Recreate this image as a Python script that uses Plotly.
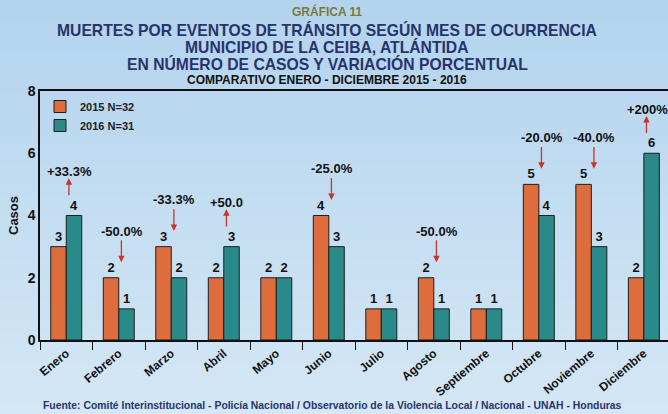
import plotly.graph_objects as go

months = ["Enero", "Febrero", "Marzo", "Abril", "Mayo", "Junio", "Julio",
          "Agosto", "Septiembre", "Octubre", "Noviembre", "Diciembre"]
casos_2015 = [3, 2, 3, 2, 2, 4, 1, 2, 1, 5, 5, 2]
casos_2016 = [4, 1, 2, 3, 2, 3, 1, 1, 1, 4, 3, 6]
variacion = ["+33.3%", "-50.0%", "-33.3%", "+50.0", "", "-25.0%", "",
             "-50.0%", "", "-20.0%", "-40.0%", "+200%"]
y_ticks = [0, 2, 4, 6, 8]

W, H = 668, 414
L, R, T, B = 40, 0, 91, 74
PH = H - T - B
PW = W - L - R


def py(p):
    return (H - B - p) / PH


def px(p):
    return (p - L) / PW


FONT = "Liberation Sans"
ORANGE = "#de6d3d"
TEAL = "#2a8989"
NAVY = "#28346b"

fig = go.Figure()
fig.add_trace(go.Bar(
    x=list(range(len(months))), y=casos_2015, name="2015 N=32",
    marker=dict(color=ORANGE, line=dict(color="#1e1e1e", width=1)),
    text=casos_2015, textposition="outside", constraintext="none",
    textfont=dict(family=FONT, size=13, color="#111", weight="bold"),
    cliponaxis=False,
))
fig.add_trace(go.Bar(
    x=list(range(len(months))), y=casos_2016, name="2016 N=31",
    marker=dict(color=TEAL, line=dict(color="#1e1e1e", width=1)),
    text=casos_2016, textposition="outside", constraintext="none",
    textfont=dict(family=FONT, size=13, color="#111", weight="bold"),
    cliponaxis=False,
))

annotations = []
for i, lab in enumerate(variacion):
    if not lab:
        continue
    a, b = casos_2015[i], casos_2016[i]
    m = max(a, b)
    xi = i + 0.05
    if b > a:
        tail, head, ty = m + 0.6, m + 1.2, m + 1.42
    else:
        tail, head, ty = m + 1.25, m + 0.5, m + 1.5
    annotations.append(dict(
        x=xi, y=head, ax=xi, ay=tail, xref="x", yref="y", axref="x", ayref="y",
        text="", showarrow=True, arrowhead=2, arrowsize=1, arrowwidth=1.3,
        arrowcolor="#c9342c", standoff=0, startstandoff=0))
    annotations.append(dict(
        x=i + 0.06, y=ty, xref="x", yref="y", text=lab, showarrow=False,
        yanchor="middle", font=dict(family=FONT, size=13, color="#111", weight="bold")))

titles = [
    ("GRÁFICA 11", 11, 12, "#7a7a3c"),
    ("MUERTES POR EVENTOS DE TRÁNSITO SEGÚN MES DE OCURRENCIA", 30, 15.7, NAVY),
    ("MUNICIPIO DE LA CEIBA, ATLÁNTIDA", 47, 15.7, NAVY),
    ("EN NÚMERO DE CASOS Y VARIACIÓN PORCENTUAL", 64, 15.7, NAVY),
    ("COMPARATIVO ENERO - DICIEMBRE 2015 - 2016", 80, 12, "#111"),
]
for txt, yy, sz, col in titles:
    annotations.append(dict(
        x=px(327), y=py(yy), xref="paper", yref="paper", text=txt, showarrow=False,
        xanchor="center", yanchor="middle",
        font=dict(family=FONT, size=sz, color=col, weight="bold")))

annotations.append(dict(
    x=px(332), y=py(405), xref="paper", yref="paper",
    text="Fuente: Comité Interinstitucional - Policía Nacional / Observatorio de la Violencia Local / Nacional - UNAH - Honduras",
    showarrow=False, xanchor="center", yanchor="middle",
    font=dict(family=FONT, size=10.4, color=NAVY, weight="bold")))

# background gradient bands
shapes = []
n = 40
top_c = (0xb3, 0xd3, 0xee)
bot_c = (0xd4, 0xe7, 0xf5)
for k in range(n):
    t = k / (n - 1)
    c = tuple(round(top_c[j] + (bot_c[j] - top_c[j]) * t) for j in range(3))
    y0 = H * k / n
    y1 = H * (k + 1) / n + 1
    shapes.append(dict(type="rect", xref="paper", yref="paper",
                       x0=px(0), x1=px(W), y0=py(y1), y1=py(y0),
                       fillcolor="rgb(%d,%d,%d)" % c, line=dict(width=0), layer="below"))

fig.update_layout(
    width=W, height=H,
    margin=dict(l=L, r=R, t=T, b=B),
    paper_bgcolor="#c4ddf1", plot_bgcolor="rgba(0,0,0,0)",
    barmode="group", bargap=0.41, bargroupgap=0,
    showlegend=True,
    legend=dict(x=px(40), y=py(92), xanchor="left", yanchor="top",
                bgcolor="rgba(0,0,0,0)", font=dict(family=FONT, size=11, color="#222", weight="bold"),
                tracegroupgap=0),
    annotations=annotations,
    shapes=shapes,
    font=dict(family=FONT),
)
fig.update_xaxes(
    type="linear", range=[-0.5, 11.46],
    tickmode="array", tickvals=list(range(len(months))), ticktext=months,
    tickangle=-40, ticks="", showgrid=False, zeroline=False,
    showline=True, linecolor="#111", linewidth=1.5, mirror=True,
    tickfont=dict(family=FONT, size=12, color="#111", weight="bold"),
)
fig.update_yaxes(
    range=[0, 8], tickvals=y_ticks, showgrid=False, zeroline=False,
    showline=True, linecolor="#111", linewidth=1.5, ticks="",
    tickfont=dict(family=FONT, size=14, color="#111", weight="bold"),
    title=dict(text="Casos", font=dict(family=FONT, size=13, color="#111", weight="bold"), standoff=6),
)
fig.update_xaxes(minor=dict(tickmode="array", tickvals=[k + 0.5 for k in range(-1, 12)],
                            ticks="outside", ticklen=8, tickcolor="#111", tickwidth=1.3))

fig.write_html("out.html", config={"displayModeBar": False},
               post_script="document.body.style.margin='0';document.body.style.overflow='hidden';")
